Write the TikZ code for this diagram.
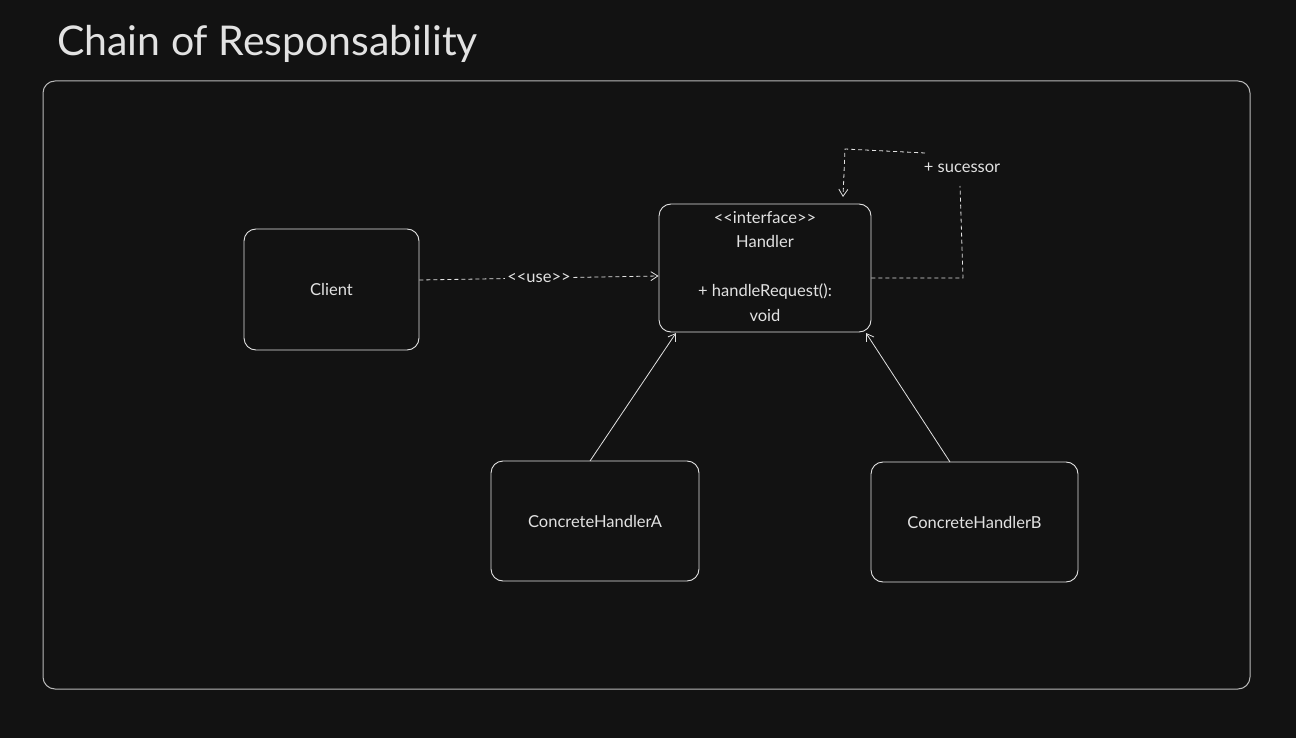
\documentclass[tikz,border=0pt]{standalone}
\usepackage{fontspec}
\setmainfont{Lato}
\usetikzlibrary{arrows.meta}
\definecolor{bg}{HTML}{121212}
\definecolor{ink}{HTML}{E2E2E2}
\definecolor{frame}{HTML}{B8B8B8}
\newcommand{\myll}{<\kern0pt<}
\newcommand{\mygg}{>\kern0pt>}
\tikzset{
  box/.style={draw=ink, line width=0.9pt, rounded corners=12pt, fill=bg, text=ink, font=\fontsize{16.5}{25}\selectfont, align=center, inner sep=0pt},
  conn/.style={draw=ink, line width=0.8pt},
  dashconn/.style={conn, dash pattern=on 4pt off 3pt},
  tip/.style={-{Straight Barb[length=7pt,width=9pt,line width=0.8pt]}},
  lbl/.style={text=ink, font=\fontsize{16.5}{18}\selectfont, fill=bg, inner sep=2pt}
}
\begin{document}
\begin{tikzpicture}[x=1pt,y=-1pt]
\fill[bg] (0,0) rectangle (1296,738);
\useasboundingbox (0,0) rectangle (1296,738);
\node[anchor=base west, text=ink, font=\fontsize{41}{44}\selectfont, inner sep=0pt] (title) at (57,56) {Chain of Responsability};
\draw[draw=frame, line width=1pt, rounded corners=12pt] (43,81) rectangle (1250,689);
\node[box, minimum width=175pt, minimum height=121pt] (client) at (331.5,289.5) {Client};
\node[box, minimum width=212pt, minimum height=128pt] (handler) at (765,268) {};
\node[text=ink, font=\fontsize{16.5}{24.5}\selectfont, align=center, anchor=north, inner sep=0pt] (htext) at (765,211) {\myll interface\mygg\\Handler\\[24.5pt]+ handleRequest():\\void};
\node[box, minimum width=208pt, minimum height=120pt] (cha) at (595,521) {ConcreteHandlerA};
\node[box, minimum width=207pt, minimum height=120pt] (chb) at (974.5,522) {ConcreteHandlerB};
% use dependency
\draw[dashconn, tip] (client.east |- 0,280) -- node[lbl] (use) {\myll use\mygg} (handler.west |- 0,276);
% inheritance
\coordinate (aS) at (590,461);
\coordinate (aT) at (676,333);
\coordinate (bS) at (950,462);
\coordinate (bT) at (866,333);
\draw[conn, tip] (aS) -- (aT);
\draw[conn, tip] (bS) -- (bT);
% successor self-association
\coordinate (s1) at (963,278);
\coordinate (s2) at (960,186);
\coordinate (s3) at (925,153);
\coordinate (s4) at (845,149);
\coordinate (s5) at (843,197);
\node[lbl, fill=none] (succ) at (962,168) {+ sucessor};
\draw[dashconn] (handler.east |- s1) -- (s1) -- (s2);
\draw[dashconn, tip] (s3) -- (s4) -- (s5);
\end{tikzpicture}
\end{document}
